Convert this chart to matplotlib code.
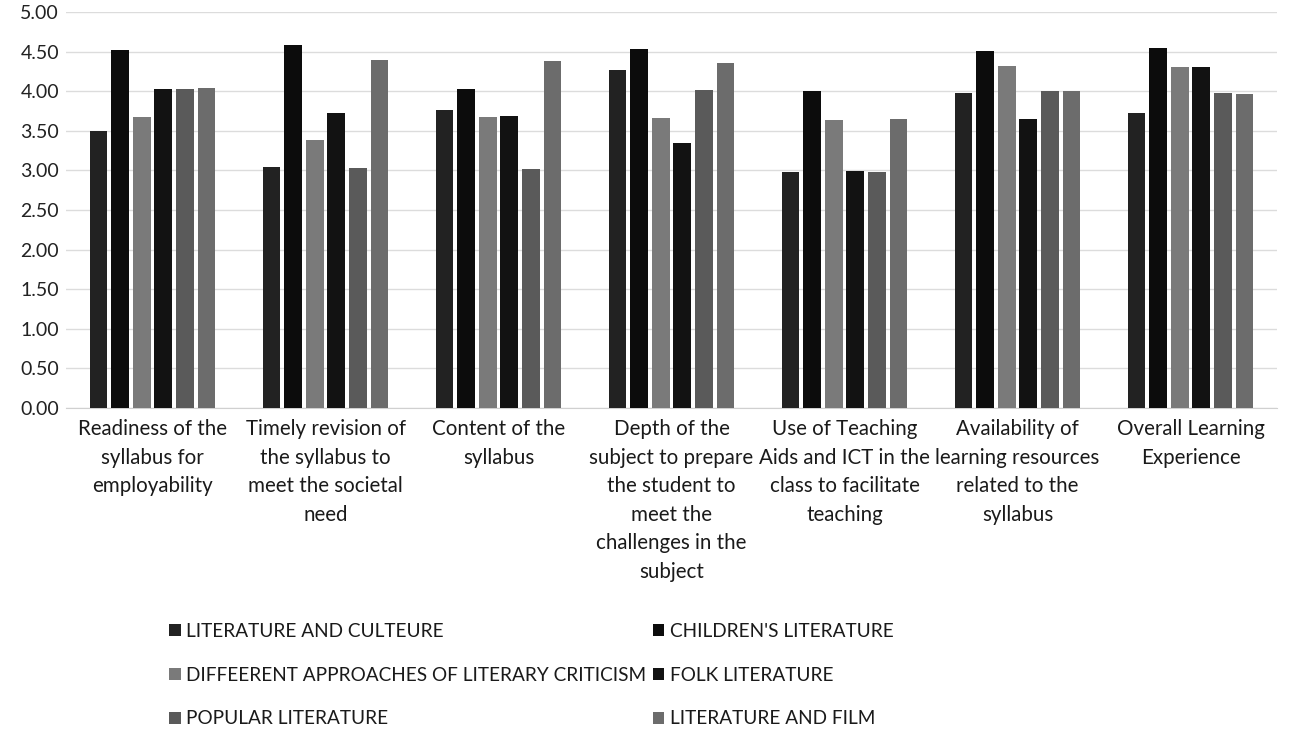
import matplotlib
matplotlib.use("Agg")
import matplotlib.pyplot as plt
import numpy as np

categories = [
    "Readiness of the\nsyllabus for\nemployability",
    "Timely revision of\nthe syllabus to\nmeet the societal\nneed",
    "Content of the\nsyllabus",
    "Depth of the\nsubject to prepare\nthe student to\nmeet the\nchallenges in the\nsubject",
    "Use of Teaching\nAids and ICT in the\nclass to facilitate\nteaching",
    "Availability of\nlearning resources\nrelated to the\nsyllabus",
    "Overall Learning\nExperience",
]

series_names = [
    "LITERATURE AND CULTEURE",
    "CHILDREN'S LITERATURE",
    "DIFFEERENT APPROACHES OF LITERARY CRITICISM",
    "FOLK LITERATURE",
    "POPULAR LITERATURE",
    "LITERATURE AND FILM",
]

lit_culture = [3.50, 3.04, 3.76, 4.27, 2.98, 3.98, 3.73]
childrens   = [4.52, 4.58, 4.03, 4.53, 4.00, 4.51, 4.55]
approaches  = [3.67, 3.38, 3.68, 3.66, 3.64, 4.32, 4.31]
folk        = [4.03, 3.72, 3.69, 3.34, 2.99, 3.65, 4.31]
popular     = [4.03, 3.03, 3.02, 4.01, 2.98, 4.00, 3.98]
film        = [4.04, 4.40, 4.38, 4.35, 3.65, 4.00, 3.96]

yticks = [0.0, 0.5, 1.0, 1.5, 2.0, 2.5, 3.0, 3.5, 4.0, 4.5, 5.0]

series = [lit_culture, childrens, approaches, folk, popular, film]
colors = ["#222222", "#0c0c0c", "#7a7a7a", "#121212", "#5a5a5a", "#6c6c6c"]

plt.rcParams['font.family'] = ['Lato', 'DejaVu Sans']

fig = plt.figure(figsize=(12.9, 7.35), dpi=100)
ax = fig.add_axes([66/1290, 1-408/735, (1277-66)/1290, 396/735])

x = np.arange(len(categories))
step = 0.125
width = 0.102
handles = []
for i, (vals, c) in enumerate(zip(series, colors)):
    off = (i - 2.5) * step
    b = ax.bar(x + off, vals, width=width, color=c, label=series_names[i], zorder=3)
    handles.append(b)

ax.set_xlim(-0.5, len(categories) - 0.5)
ax.set_ylim(0, 5)
ax.set_yticks(yticks)
ax.set_yticklabels([f"{v:.2f}" for v in yticks], fontsize=14, color="#222222")
ax.set_xticks(x)
ax.set_xticklabels(categories, fontsize=14.8, color="#1a1a1a", linespacing=1.53)
ax.tick_params(axis='both', length=0)
ax.tick_params(axis='x', pad=8)
ax.tick_params(axis='y', pad=5)
ax.grid(axis='y', color="#dcdcdc", linewidth=1.0, zorder=0)
for s in ["top", "right", "left"]:
    ax.spines[s].set_visible(False)
ax.spines["bottom"].set_color("#d0d0d0")

order = [0, 2, 4, 1, 3, 5]
leg = fig.legend([handles[i] for i in order], [series_names[i] for i in order],
                 ncol=2, loc="upper left", bbox_to_anchor=(152/1290, 1-606/735),
                 frameon=False, fontsize=13.7, handlelength=0.6, handleheight=0.6,
                 handletextpad=0.3, columnspacing=0.35, labelspacing=1.4)
for t in leg.get_texts():
    t.set_color("#1a1a1a")

fig.savefig("out.png", dpi=100)
